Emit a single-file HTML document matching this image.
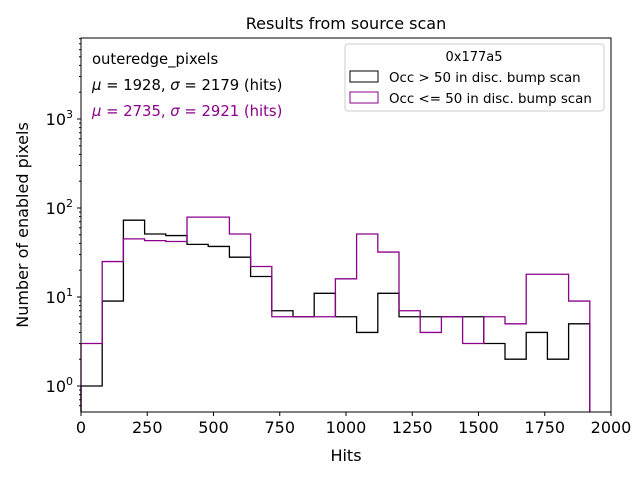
<!DOCTYPE html>
<html><head><meta charset="utf-8"><style>
body{margin:0;background:#fff;}
svg{display:block;font-family:"DejaVu Sans","Liberation Sans",sans-serif;}
</style></head><body>
<svg id="chart" width="640" height="480" viewBox="0 0 640 480" xmlns="http://www.w3.org/2000/svg">
<rect x="0" y="0" width="640" height="480" fill="#fff"/>
<text x="346" y="29" font-size="16" text-anchor="middle">Results from source scan</text>
<g id="marks"></g>
<g id="axes"></g>
<rect x="81" y="38" width="530" height="374" fill="none" stroke="#000" stroke-width="1"/>
<text x="346" y="461" font-size="16" text-anchor="middle">Hits</text>
<text transform="translate(28,225) rotate(-90)" font-size="16" text-anchor="middle">Number of enabled pixels</text>
<text x="92" y="64" font-size="14.8">outeredge_pixels</text>
<text x="92" y="90" font-size="14.8"><tspan font-style="italic">μ</tspan> = 1928, <tspan font-style="italic">σ</tspan> = 2179 (hits)</text>
<text x="92" y="116" font-size="14.8" fill="#8b008b"><tspan font-style="italic">μ</tspan> = 2735, <tspan font-style="italic">σ</tspan> = 2921 (hits)</text>
<g>
<rect x="345" y="44" width="259" height="67" rx="3" fill="#fff" fill-opacity="0.8" stroke="#ccc"/>
<text x="474" y="61" font-size="13" text-anchor="middle">0x177a5</text>
<rect x="350" y="71" width="28" height="11" fill="none" stroke="#000"/>
<text x="389" y="82" font-size="13.4">Occ &gt; 50 in disc. bump scan</text>
<rect x="350" y="92" width="28" height="11" fill="none" stroke="#8b008b"/>
<text x="389" y="103" font-size="13.4">Occ &lt;= 50 in disc. bump scan</text>
</g>
</svg>
<script>
const binEdges = [0,80,160,240,320,400,480,560,640,720,800,880,960,1040,1120,1200,1280,1360,1440,1520,1600,1680,1760,1840,1920];
const countsHigh = [1,9,73,51,49,39,37,28,17,7,6,11,6,4,11,6,6,6,6,3,2,4,2,5];
const countsLow = [3,25,45,43,42,79,79,51,22,6,6,6,16,51,32,7,4,6,3,6,5,18,18,9];
const xTicks = [0,250,500,750,1000,1250,1500,1750,2000];
const yMajor = [0,1,2,3];
const NS='http://www.w3.org/2000/svg';
const L=81,R=611,T=38,B=412;
function xs(v){return L+(v-0)/2000*(R-L);}
function ys(v){return 386-89*Math.log10(v);}
function mk(tag,attrs,parent){const e=document.createElementNS(NS,tag);for(const k in attrs)e.setAttribute(k,attrs[k]);parent.appendChild(e);return e;}
const marks=document.getElementById('marks'), axes=document.getElementById('axes');
function stepPath(counts){
  let d='M'+xs(binEdges[0])+','+B;
  for(let i=0;i<counts.length;i++){
    const y=Math.min(B,ys(counts[i]));
    d+=' L'+xs(binEdges[i])+','+y+' L'+xs(binEdges[i+1])+','+y;
  }
  d+=' L'+xs(binEdges[counts.length])+','+B;
  return d;
}
const p1=mk('path',{d:stepPath(countsHigh),fill:'none',stroke:'#000','stroke-width':1.3},marks);


const p2=mk('path',{d:stepPath(countsLow),fill:'none',stroke:'#8b008b','stroke-width':1.3},marks);


xTicks.forEach(v=>{
  const x=xs(v);
  mk('line',{x1:x,x2:x,y1:B,y2:B+4,stroke:'#000'},axes);
  const t=mk('text',{x:x,y:B+21,'font-size':16,'text-anchor':'middle'},axes);
  t.textContent=v;
  
  
});
for(let e=-1;e<=3;e++){
  for(let m=1;m<10;m++){
    const v=m*Math.pow(10,e);const y=ys(v);
    if(y<T||y>B)continue;
    mk('line',{x1:L,x2:L-(m===1?4:2),y1:y,y2:y,stroke:'#000'},axes);
  }
}
yMajor.forEach(e=>{
  const y=ys(Math.pow(10,e));
  const t=mk('text',{x:L-8,y:y+6,'font-size':16,'text-anchor':'end'},axes);
  t.innerHTML='10<tspan dy="-7" font-size="11">'+e+'</tspan>';
  
  
});
</script>
</body></html>
